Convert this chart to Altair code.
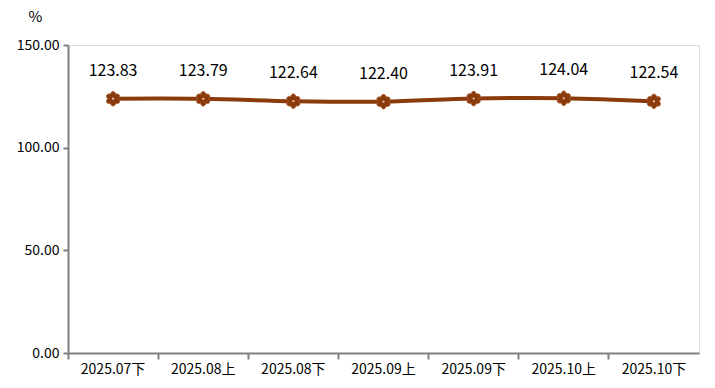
import altair as alt
import pandas as pd
import math

categories = ["2025.07下", "2025.08上", "2025.08下", "2025.09上", "2025.09下", "2025.10上", "2025.10下"]
values = [123.83, 123.79, 122.64, 122.40, 123.91, 124.04, 122.54]

df = pd.DataFrame({"period": categories, "value": values})
df["label"] = [f"{v:.2f}" for v in values]

# flower marker shape (style only)
pts = []
n = 120
for i in range(n + 1):
    t = 2 * math.pi * i / n
    r = 0.72 + 0.28 * abs(math.cos(3 * t))
    pts.append((r * math.sin(t), -r * math.cos(t)))
flower = "M" + " L".join(f"{x:.3f},{y:.3f}" for x, y in pts) + " Z"

FONT = "Noto Sans CJK SC"
BROWN = "#8B3A0C"

x = alt.X("period:N", sort=categories, title=None,
          scale=alt.Scale(type="band", paddingInner=0, paddingOuter=0),
          axis=alt.Axis(labelAngle=0, labelFontSize=14, labelFont=FONT, labelColor="#000",
                        domainColor="#808080", domainWidth=2, tickColor="#808080", tickWidth=2,
                        tickSize=6, bandPosition=0, labelPadding=3, ticks=True))
y = alt.Y("value:Q", title="%", scale=alt.Scale(domain=[0, 150], nice=False),
          axis=alt.Axis(values=[0, 50, 100, 150], format=".2f", labelFontSize=14, labelFont=FONT,
                        labelColor="#000", domainColor="#808080", domainWidth=2,
                        tickColor="#808080", tickWidth=2, tickSize=5, grid=False,
                        titleAngle=0, titleX=-33, titleY=-21, titleFontSize=15,
                        titleFontWeight="normal", titleFont=FONT, titleColor="#000",
                        labelPadding=4))

base = alt.Chart(df).encode(x=x, y=y)

line = base.mark_line(color=BROWN, strokeWidth=4, interpolate="cardinal")
points = base.mark_point(shape=flower, size=210, filled=True, fill=BROWN, stroke="#A85A30",
                         strokeWidth=1, opacity=1)
dots = base.mark_point(shape="circle", size=5, filled=True, color="#E8C8A8", opacity=1)
text = base.mark_text(dy=-28, fontSize=16, font=FONT, color="#000").encode(text="label:N")

chart = alt.layer(line, points, dots, text).properties(
    width=631, height=308,
    autosize=alt.AutoSizeParams(type="none"),
    padding={"left": 68, "top": 45, "right": 16, "bottom": 35},
).configure_view(stroke=None).configure(background="white")

chart.save("out.html", embed_options={"renderer": "svg", "actions": False})
